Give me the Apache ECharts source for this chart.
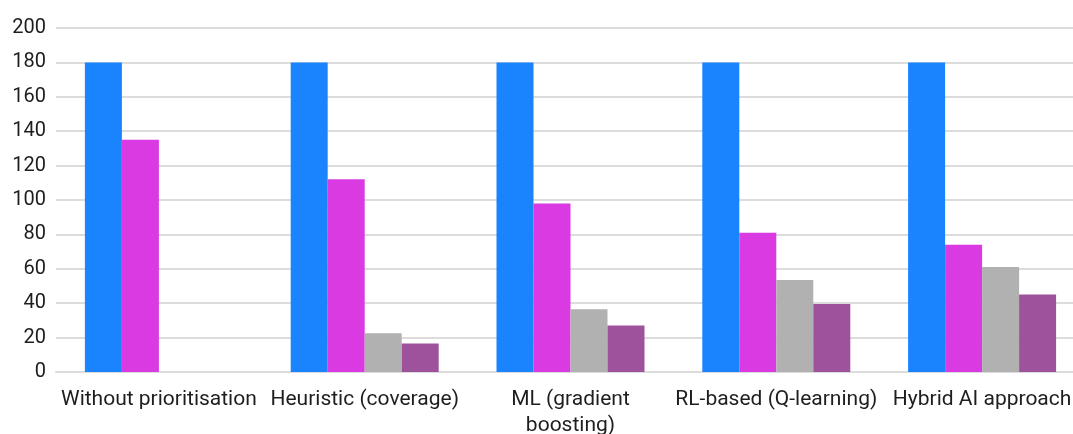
<!DOCTYPE html>
<html>
<head>
<meta charset="utf-8">
<script src="https://cdn.jsdelivr.net/npm/echarts@6/dist/echarts.min.js"></script>
<style>
  html, body { margin: 0; padding: 0; background: #fff; }
  #chart { width: 1073px; height: 434px; }
</style>
</head>
<body>
<div id="chart"></div>
<script>
var categories = ['Without prioritisation', 'Heuristic (coverage)', 'ML (gradient\nboosting)',
    'RL-based (Q-learning)', 'Hybrid AI approach'];
var series1 = [180, 180, 180, 180, 180];
var series2 = [135, 112, 98, 81, 74];
var series3 = [0, 22.5, 36.5, 53.5, 61];
var series4 = [0, 16.5, 27, 39.5, 45];
var yTicks = { min: 0, max: 200, interval: 20 };

var colors = ['#1a84ff', '#d93ae2', '#b1b1b1', '#9e529c'];
var allData = [series1, series2, series3, series4];

var chart = echarts.init(document.getElementById('chart'));

var option = {
    animation: false,
    textStyle: { fontFamily: 'Roboto' },
    grid: {
        left: 56,
        top: 28,
        right: -12,
        bottom: 62,
        outerBoundsMode: 'none',
        containLabel: false
    },
    xAxis: {
        type: 'category',
        data: categories,
        axisTick: { show: false },
        axisLine: {
            lineStyle: { color: '#dcdcdc', width: 2 }
        },
        axisLabel: {
            interval: 0,
            color: '#1e1e1e',
            fontSize: 21,
            lineHeight: 26,
            margin: 15
        }
    },
    yAxis: {
        type: 'value',
        min: yTicks.min,
        max: yTicks.max,
        interval: yTicks.interval,
        axisLine: { show: false },
        axisTick: { show: false },
        axisLabel: {
            color: '#1e1e1e',
            fontSize: 20,
            margin: 10
        },
        splitLine: {
            lineStyle: { color: '#dcdcdc', width: 2 }
        }
    },
    series: allData.map(function (d, i) {
        return {
            type: 'bar',
            data: d,
            barWidth: 37,
            barGap: '0%',
            itemStyle: {
                color: colors[i]
            }
        };
    })
};

chart.setOption(option);
</script>
</body>
</html>
